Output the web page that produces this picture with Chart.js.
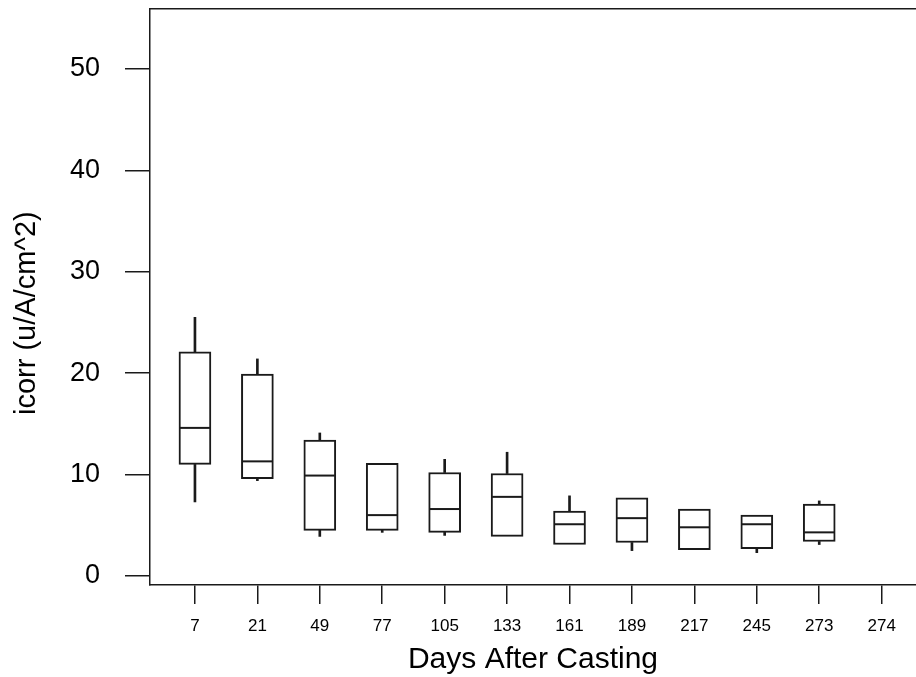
<!DOCTYPE html>
<html>
<head>
<meta charset="utf-8">
<script src="https://cdn.jsdelivr.net/npm/chart.js@4"></script>
<style>
  html, body { margin: 0; padding: 0; background: #fff; }
  #wrap { width: 916px; height: 677px; }
</style>
</head>
<body>
<div id="wrap"><canvas id="myChart_icorr"></canvas></div>
<script>
 // icorr po dniach od betonowania
 var days = ['7', '21', '49', '77', '105', '133', '161', '189', '217', '245', '273', '274'];
 var whiskerLow  = [7.3, 9.4, 3.9, 4.3, 4.0, null, null, 2.5, null, 2.3, 3.1, null];
 var q1          = [11.0, 9.6, 4.5, 4.5, 4.3, 3.9, 3.1, 3.3, 2.6, 2.7, 3.4, null];
 var median      = [14.6, 11.3, 9.9, 6.0, 6.6, 7.8, 5.1, 5.7, 4.8, 5.1, 4.3, null];
 var q3          = [22.1, 19.9, 13.4, 11.1, 10.2, 10.1, 6.4, 7.7, 6.6, 6.0, 7.1, null];
 var whiskerHigh = [25.5, 21.4, 14.1, null, 11.5, 12.2, 7.9, null, null, null, 7.4, null];
 var yTicks = [0, 10, 20, 30, 40, 50];

 var ink = '#1a1a1a';

 var boxes = [], meds = [], whiskers = [];
 for (var i = 0; i < days.length; i++) {
   if (q1[i] != null) boxes.push({x: i, y: [q1[i], q3[i]]});
   if (median[i] != null) meds.push({x: i, y: median[i]});
   if (whiskerLow[i] != null) whiskers.push({x: i, y: [whiskerLow[i], q1[i]]});
   if (whiskerHigh[i] != null) whiskers.push({x: i, y: [q3[i], whiskerHigh[i]]});
 }

 // bez dodatkowych marginesow od etykiet
 function noPad(scale) {
   scale.paddingTop = 0;
   scale.paddingBottom = 0;
   scale.paddingLeft = 0;
   scale.paddingRight = 0;
 }

 var ctx = document.getElementById("myChart_icorr").getContext('2d');
 var myChart_icorr = new Chart(ctx, {
     type: 'bar',
     data: {
     datasets: [{
         type: 'scatter',
         label: "mediana",
         data: meds,
         pointStyle: 'line',
         pointRadius: 15,
         pointHoverRadius: 15,
         borderColor: ink,
         borderWidth: 2,
         order: 0
     }, {
         label: "kwartyle",
         data: boxes,
         backgroundColor: '#fff',
         borderColor: ink,
         borderWidth: 2,
         borderSkipped: false,
         barThickness: 32,
         grouped: false,
         order: 1
     }, {
         label: "wąsy",
         data: whiskers,
         backgroundColor: ink,
         borderWidth: 0,
         barThickness: 2,
         grouped: false,
         order: 2
     }]
     },
     options: {
        responsive: true,
        maintainAspectRatio: false,
        animation: false,
        layout: { padding: 0, autoPadding: false },
        plugins: {
            legend: { display: false },
            tooltip: { enabled: false }
         },
        scales: {
          x: {
            type: 'linear',
            min: -0.72,
            max: 11.55,
            offset: false,
            afterBuildTicks: function (scale) {
              scale.ticks = days.map(function (d, i) { return {value: i}; });
            },
            afterFit: function (scale) { scale.height = 92; noPad(scale); },
            ticks: {
              color: '#000',
              padding: 12,
              maxRotation: 0,
              autoSkip: false,
              font: { family: 'Liberation Sans, Arial, sans-serif', size: 17 },
              callback: function (v) { return days[v]; }
            },
            grid: {
              offset: false,
              drawOnChartArea: false,
              tickLength: 19,
              color: ink,
              lineWidth: 1.5
            },
            border: { color: ink, width: 1.5 },
            title: {
              display: true,
              text: 'Days After Casting',
              color: '#000',
              padding: { top: 0, bottom: 2 },
              font: { family: 'Liberation Sans, Arial, sans-serif', size: 30, lineHeight: 1 }
            }
          },
          xTop: {
            type: 'linear',
            position: 'top',
            min: 0,
            max: 1,
            afterFit: function (scale) { scale.height = 9; noPad(scale); },
            ticks: { display: false },
            grid: { display: false },
            border: { color: ink, width: 1.5 }
          },
          y: {
            min: -0.89,
            max: 55.9,
            afterBuildTicks: function (scale) {
              scale.ticks = yTicks.map(function (v) { return {value: v}; });
            },
            afterFit: function (scale) { scale.width = 150; noPad(scale); },
            ticks: {
              color: '#000',
              padding: 25,
              font: { family: 'Liberation Sans, Arial, sans-serif', size: 27 }
            },
            grid: {
              drawOnChartArea: false,
              tickLength: 25,
              color: ink,
              lineWidth: 1.5
            },
            border: { color: ink, width: 1.5 },
            title: {
              display: true,
              // spacje na koncu przesuwaja napis troche w dol
              text: 'icorr (u/A/cm^2)    ',
              color: '#000',
              padding: { top: 12, bottom: 0 },
              font: { family: 'Liberation Sans, Arial, sans-serif', size: 29, lineHeight: 1 }
            }
          }
        }
      }
 });
</script>
</body>
</html>
